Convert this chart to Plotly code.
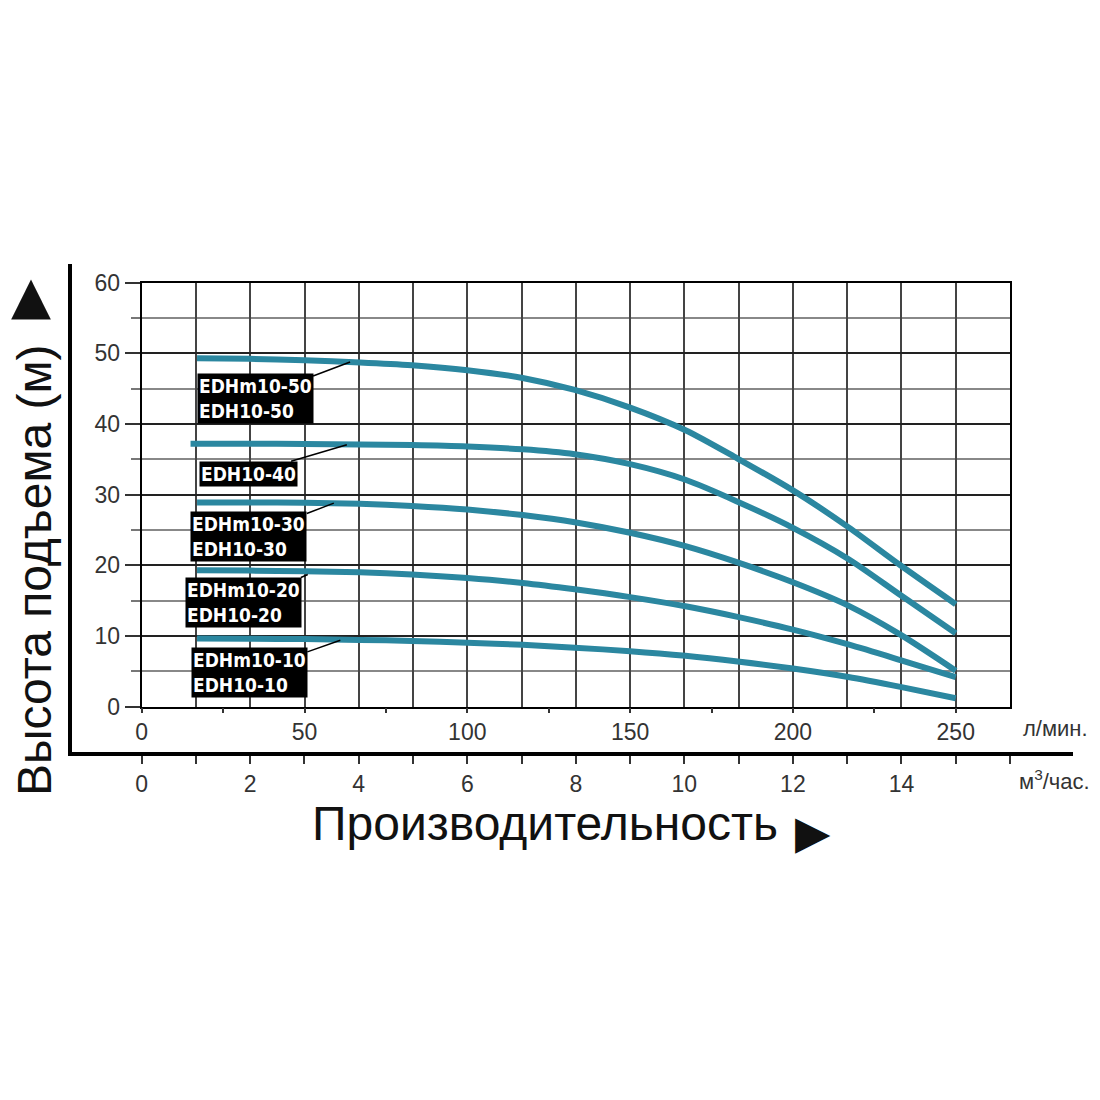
import plotly.graph_objects as go

# flow, L/min (1 m3/h = 16.67 L/min)
flow = [17, 33, 50, 67, 83, 100, 117, 133, 150, 167, 183, 200, 217, 233, 250]
flow_40 = [15, 33, 50, 67, 83, 100, 117, 133, 150, 167, 183, 200, 217, 233, 250]

head_50 = [49.3, 49.2, 49.0, 48.7, 48.3, 47.6, 46.5, 44.8, 42.3, 39.1, 35.1, 30.6, 25.4, 20.0, 14.5]
head_40 = [37.2, 37.2, 37.15, 37.1, 37.0, 36.8, 36.4, 35.7, 34.3, 32.1, 29.0, 25.3, 20.9, 15.8, 10.4]
head_30 = [28.9, 28.9, 28.85, 28.7, 28.4, 27.9, 27.1, 26.1, 24.6, 22.7, 20.4, 17.6, 14.3, 10.2, 5.1]
head_20 = [19.3, 19.25, 19.15, 19.0, 18.7, 18.2, 17.5, 16.6, 15.5, 14.2, 12.7, 10.9, 8.8, 6.6, 4.2]
head_10 = [9.66, 9.62, 9.56, 9.45, 9.3, 9.05, 8.75, 8.35, 7.85, 7.2, 6.4, 5.4, 4.2, 2.8, 1.2]

series = [
    ("EDHm10-50<br>EDH10-50", flow, head_50),
    ("EDH10-40", flow_40, head_40),
    ("EDHm10-30<br>EDH10-30", flow, head_30),
    ("EDHm10-20<br>EDH10-20", flow, head_20),
    ("EDHm10-10<br>EDH10-10", flow, head_10),
]

# where each label's leader line touches its curve (L/min, m) and box offset (px)
label_tips = [(64, 48.75, -95, 36), (63, 37.05, -98, 29), (59, 28.8, -85, 33),
              (51, 18.7, -64, 28), (61, 9.4, -91, 32)]

lpm_ticks = list(range(0, 251, 25))
lpm_text = [str(v) if v % 50 == 0 else "" for v in lpm_ticks]
m3h_ticks = list(range(0, 17))
m3h_text = [str(v) if v % 2 == 0 and v <= 14 else "" for v in m3h_ticks]
grid_lpm = [k * 50 / 3 for k in range(1, 16)]

W = H = 1100
OFF = 8  # page margin around the plot div
TEAL = "#2b87a0"
FONT = "Liberation Sans, Arial, sans-serif"
LABEL_FONT = "DejaVu Sans Condensed, Liberation Sans Narrow, Arial Narrow, sans-serif"


def px(x):
    return (x - OFF) / W


def py(y):
    return 1 - (y - OFF) / H


fig = go.Figure()
for name, q, h in series:
    fig.add_trace(go.Scatter(x=q, y=h, mode="lines", name=name.replace("<br>", " / "),
                             line=dict(color=TEAL, width=6, shape="spline", smoothing=0.8),
                             hoverinfo="x+y+name", showlegend=False))

# helpers so that the label axis and the outer frame axes are drawn
fig.add_trace(go.Scatter(x=[0], y=[0], xaxis="x3", yaxis="y", mode="markers",
                         marker=dict(opacity=0), hoverinfo="skip", showlegend=False))
fig.add_trace(go.Scatter(x=[0], y=[0], xaxis="x2", yaxis="y2", mode="markers",
                         marker=dict(opacity=0), hoverinfo="skip", showlegend=False))

for (name, _, _), (tq, th, ax, ay) in zip(series, label_tips):
    fig.add_annotation(x=tq, y=th, xref="x", yref="y", text="<b>%s</b>" % name,
                       showarrow=True, arrowhead=0, arrowwidth=1.5, arrowcolor="black",
                       ax=ax, ay=ay, align="left", bgcolor="black", borderpad=1,
                       font=dict(family=LABEL_FONT, size=19, color="white"))

x_dom = [px(141.7), px(1010)]
fig.update_layout(
    width=W, height=H, margin=dict(l=0, r=0, t=0, b=0, autoexpand=False),
    paper_bgcolor="white", plot_bgcolor="rgba(0,0,0,0)",
    font=dict(family=FONT, color="#333"),
    xaxis=dict(domain=x_dom, range=[0, 800 / 3], anchor="y", automargin=False,
               tickmode="array", tickvals=grid_lpm, showticklabels=False, ticks="",
               showgrid=True, gridcolor="#444", gridwidth=1.5, zeroline=False,
               showline=True, mirror=True, linecolor="black", linewidth=2),
    xaxis3=dict(overlaying="x", range=[0, 800 / 3], anchor="y", side="bottom",
                automargin=False,
                tickmode="array", tickvals=lpm_ticks, ticktext=lpm_text,
                ticks="outside", ticklen=5, tickwidth=1.5, tickcolor="#333",
                showgrid=False, zeroline=False, showline=False,
                tickfont=dict(size=23, color="#333")),
    yaxis=dict(domain=[py(706.7), py(282.5)], range=[0, 60], anchor="x", automargin=False,
               tickmode="linear", tick0=0, dtick=10,
               ticks="outside", ticklen=15, tickwidth=1.5, tickcolor="#333",
               showgrid=True, gridcolor="#222", gridwidth=1.5, zeroline=False,
               showline=True, mirror=True, linecolor="black", linewidth=2,
               tickfont=dict(size=23, color="#333"),
               minor=dict(dtick=5, ticks="outside", ticklen=9, tickwidth=1.5,
                          tickcolor="#777", showgrid=True, gridcolor="#888", gridwidth=1.5)),
    xaxis2=dict(domain=[px(72), px(1073)], range=[-1.284, 17.161], anchor="y2",
                automargin=False,
                tickmode="array", tickvals=m3h_ticks, ticktext=m3h_text,
                ticks="outside", ticklen=8, tickwidth=1.5, tickcolor="#333",
                showgrid=False, zeroline=False,
                showline=True, linecolor="black", linewidth=4,
                tickfont=dict(size=23, color="#333")),
    yaxis2=dict(domain=[py(752), py(264)], range=[0, 1], anchor="x2", automargin=False,
                showticklabels=False, ticks="", showgrid=False, zeroline=False,
                showline=True, linecolor="black", linewidth=4),
)


def note(x, y, text, size, family=FONT, color="#333", angle=0):
    fig.add_annotation(x=px(x), y=py(y), xref="paper", yref="paper", showarrow=False,
                       xanchor="center", yanchor="middle", text=text, textangle=angle,
                       font=dict(family=family, size=size, color=color))


note(1055, 729, "л/мин.", 22)
note(1054, 780, "м<sup>3</sup>/час.", 22)
note(34, 571, "Высота подъема (м)", 48, color="#111", angle=-90)
note(31, 295, "▲", 52, family="DejaVu Sans", color="#111")
note(545, 823, "Производительность", 48, color="#111")
note(813, 832, "▶", 46, family="DejaVu Sans", color="#111")

fig.write_html("out.html")
